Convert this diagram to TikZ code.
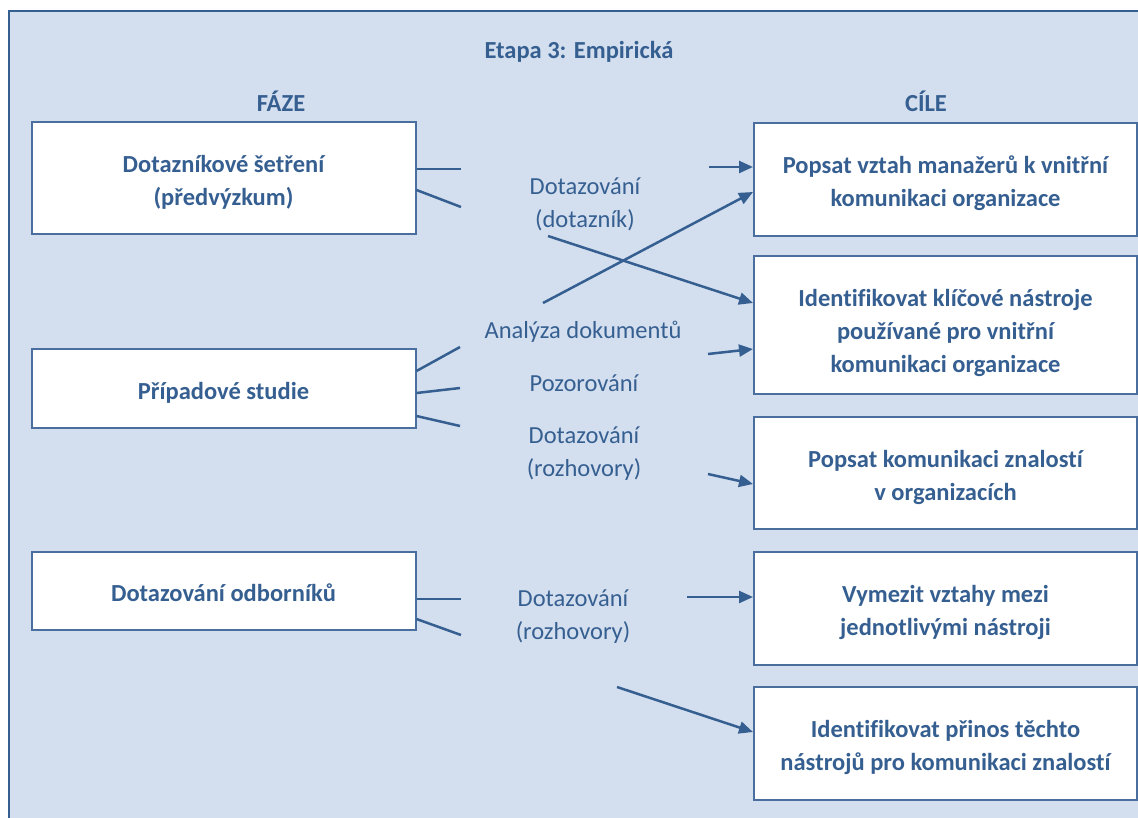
\documentclass[tikz,border=0pt]{standalone}
\usepackage{fontspec}
\setmainfont{Carlito}[Ligatures=NoCommon]
\usetikzlibrary{arrows.meta}
\definecolor{panel}{HTML}{D3DFEE}
\definecolor{ink}{HTML}{365F91}
\definecolor{rim}{HTML}{4A6E9E}
% centred lines of a box, with a strut on the first line that sets the top room
\newcommand\boxlines[2][31pt]{\begin{tabular}{@{}c@{}}\rule{0pt}{#1}#2\end{tabular}}
\begin{document}
\begin{tikzpicture}[x=1pt,y=-1pt,
  every node/.style={text=ink, font=\fontsize{24.5}{33}\selectfont, align=center, inner sep=0pt},
  phase/.style={draw=rim, line width=2pt, fill=white, minimum width=384pt,
    font=\bfseries\fontsize{24.5}{33}\selectfont},
  goal/.style={phase, minimum width=383pt},
  heading/.style={font=\bfseries\fontsize{24.5}{33}\selectfont},
  link/.style={draw=ink, line width=2.5pt},
  arr/.style={link, -{Triangle[length=14pt,width=12pt]}}]
\useasboundingbox (0,0) rectangle (1138,817);
% background panel
\draw[fill=panel, draw=ink, line width=2.5pt] (9,11) rectangle (1170,850);

% headings
\node[heading] (title) at (579,52) {Etapa 3: Empirická};
\node[heading] (faze) at (281,101) {FÁZE};
\node[heading] (cile) at (926,101) {CÍLE};

% phases
\node[phase, minimum height=112pt] (b1) at (223.5,178) {\boxlines{Dotazníkové šetření\\(předvýzkum)}};
\node[phase, minimum height=79pt] (b2) at (223.5,388.5) {\boxlines[32pt]{Případové studie}};
\node[phase, minimum height=78pt] (b3) at (223.5,591) {\boxlines[31pt]{Dotazování odborníků}};

% goals
\node[goal, minimum height=113pt] (r1) at (945.5,179.5) {\boxlines{Popsat vztah manažerů k vnitřní\\komunikaci organizace}};
\node[goal, minimum height=138pt] (r2) at (945.5,325) {\boxlines[38pt]{Identifikovat klíčové nástroje\\používané pro vnitřní\\komunikaci organizace}};
\node[goal, minimum height=112pt] (r3) at (945.5,473) {\boxlines{Popsat komunikaci znalostí\\v organizacích}};
\node[goal, minimum height=113pt] (r4) at (945.5,608.5) {\boxlines{Vymezit vztahy mezi\\jednotlivými nástroji}};
\node[goal, minimum height=113pt] (r5) at (945.5,743.5) {\boxlines{Identifikovat přinos těchto\\nástrojů pro komunikaci znalostí}};

% methods
\node (m1) at (585,204) {Dotazování\\(dotazník)};
\node (m2) at (583,332) {Analýza dokumentů};
\node (m3) at (584,383) {Pozorování};
\node (m4) at (584,454) {Dotazování\\(rozhovory)};
\node (m5) at (573,617) {Dotazování\\(rozhovory)};

% free ends of the connectors
\coordinate (a1) at (461,169);
\coordinate (a2) at (461,207);
\coordinate (a3) at (460,347);
\coordinate (a4) at (460,388);
\coordinate (a5) at (460,426);
\coordinate (a6) at (461,599);
\coordinate (a7) at (461,635);
\coordinate (s1) at (709,167);
\coordinate (s2) at (543,303);
\coordinate (s3) at (548,236);
\coordinate (s4) at (708,354);
\coordinate (s5) at (708,474);
\coordinate (s6) at (687,597);
\coordinate (s7) at (617,687);

% phase outlets
\draw[link] (b1.east |- a1) -- (a1);
\draw[link] (b1.east |- 0,190) -- (a2);
\draw[link] (b2.east |- 0,371) -- (a3);
\draw[link] (b2.east |- 0,393) -- (a4);
\draw[link] (b2.east |- 0,416) -- (a5);
\draw[link] (b3.east |- a6) -- (a6);
\draw[link] (b3.east |- 0,619) -- (a7);

% arrows into goals
\draw[arr] (s1) -- (r1.west |- s1);
\draw[arr] (s2) -- (r1.west |- 0,192);
\draw[arr] (s3) -- (r2.west |- 0,303);
\draw[arr] (s4) -- (r2.west |- 0,349);
\draw[arr] (s5) -- (r3.west |- 0,484);
\draw[arr] (s6) -- (r4.west |- s6);
\draw[arr] (s7) -- (r5.west |- 0,732);
\end{tikzpicture}
\end{document}
